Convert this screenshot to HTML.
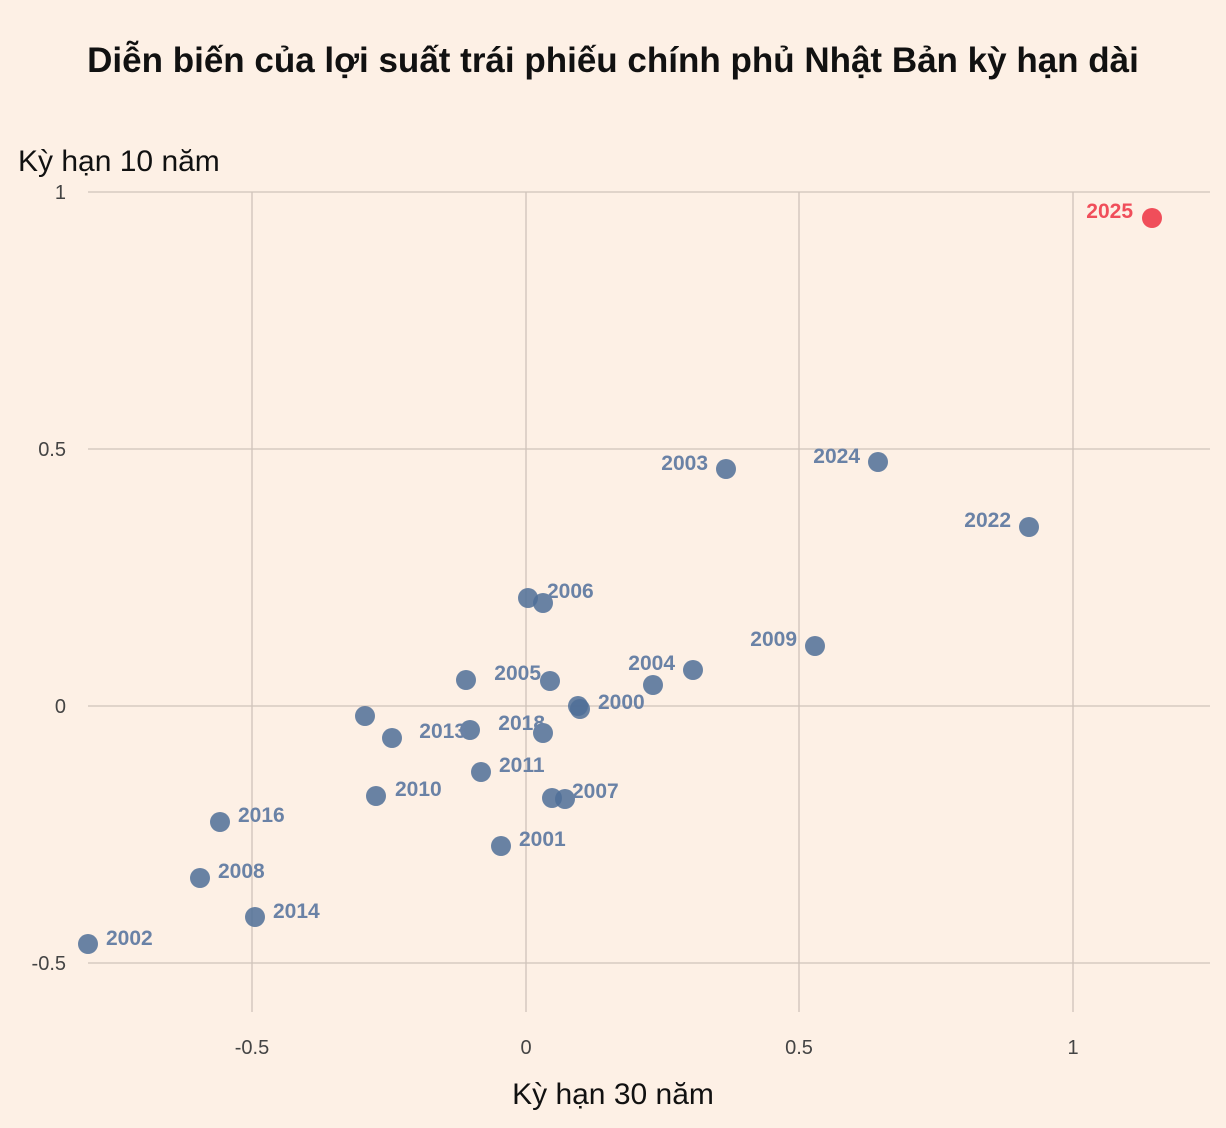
<!DOCTYPE html>
<html><head><meta charset="utf-8"><style>
html,body{margin:0;padding:0;background:#fdf0e5;}
svg{display:block;font-family:"Liberation Sans","DejaVu Sans",sans-serif;}
</style></head><body>
<svg width="1226" height="1128" viewBox="0 0 1226 1128">
<rect width="1226" height="1128" fill="#fdf0e5"/>
<text x="613" y="72" text-anchor="middle" font-size="35" font-weight="bold" fill="#111">Diễn biến của lợi suất trái phiếu chính phủ Nhật Bản kỳ hạn dài</text>
<text x="18" y="171" font-size="30" fill="#111">Kỳ hạn 10 năm</text>
<text x="613" y="1104" text-anchor="middle" font-size="30" fill="#111">Kỳ hạn 30 năm</text>
<g stroke="#cfc3ba" stroke-width="1.3">
<line x1="88" y1="192" x2="1210" y2="192"/>
<line x1="88" y1="449" x2="1210" y2="449"/>
<line x1="88" y1="706" x2="1210" y2="706"/>
<line x1="88" y1="963" x2="1210" y2="963"/>
<line x1="252" y1="192" x2="252" y2="1012"/>
<line x1="526" y1="192" x2="526" y2="1012"/>
<line x1="799" y1="192" x2="799" y2="1012"/>
<line x1="1073" y1="192" x2="1073" y2="1012"/>
</g>
<g font-size="20" fill="#444">
<text x="66" y="199" text-anchor="end">1</text>
<text x="66" y="456" text-anchor="end">0.5</text>
<text x="66" y="713" text-anchor="end">0</text>
<text x="66" y="970" text-anchor="end">-0.5</text>
<text x="252" y="1054" text-anchor="middle">-0.5</text>
<text x="526" y="1054" text-anchor="middle">0</text>
<text x="799" y="1054" text-anchor="middle">0.5</text>
<text x="1073" y="1054" text-anchor="middle">1</text>
</g>
<g fill="#4f6f98" fill-opacity="0.85">
<circle cx="878" cy="462" r="10"/><circle cx="726" cy="469" r="10"/>
<circle cx="1029" cy="527" r="10"/><circle cx="543" cy="603" r="10"/>
<circle cx="528" cy="598" r="10"/><circle cx="815" cy="646" r="10"/>
<circle cx="693" cy="670" r="10"/><circle cx="653" cy="685" r="10"/>
<circle cx="550" cy="681" r="10"/><circle cx="466" cy="680" r="10"/>
<circle cx="578" cy="706" r="10"/><circle cx="580" cy="709" r="10"/>
<circle cx="365" cy="716" r="10"/><circle cx="543" cy="733" r="10"/>
<circle cx="470" cy="730" r="10"/><circle cx="392" cy="738" r="10"/>
<circle cx="481" cy="772" r="10"/><circle cx="376" cy="796" r="10"/>
<circle cx="552" cy="798" r="10"/><circle cx="565" cy="799" r="10"/>
<circle cx="220" cy="822" r="10"/><circle cx="501" cy="846" r="10"/>
<circle cx="200" cy="878" r="10"/><circle cx="255" cy="917" r="10"/>
<circle cx="88" cy="944" r="10"/>
</g>
<circle cx="1152" cy="218" r="10" fill="#f04e5a"/>
<text x="1133" y="218" text-anchor="end" font-size="21" font-weight="bold" fill="#f04e5a">2025</text>
<g font-size="21" font-weight="bold" fill="#6a82a6">
<text x="860" y="463" text-anchor="end">2024</text>
<text x="708" y="470" text-anchor="end">2003</text>
<text x="1011" y="527" text-anchor="end">2022</text>
<text x="547" y="598">2006</text>
<text x="797" y="646" text-anchor="end">2009</text>
<text x="675" y="670" text-anchor="end">2004</text>
<text x="541" y="680" text-anchor="end">2005</text>
<text x="598" y="709">2000</text>
<text x="545" y="730" text-anchor="end">2018</text>
<text x="466" y="738" text-anchor="end">2013</text>
<text x="499" y="772">2011</text>
<text x="395" y="796">2010</text>
<text x="572" y="798">2007</text>
<text x="238" y="822">2016</text>
<text x="519" y="846">2001</text>
<text x="218" y="878">2008</text>
<text x="273" y="918">2014</text>
<text x="106" y="945">2002</text>
</g>
</svg>
</body></html>
